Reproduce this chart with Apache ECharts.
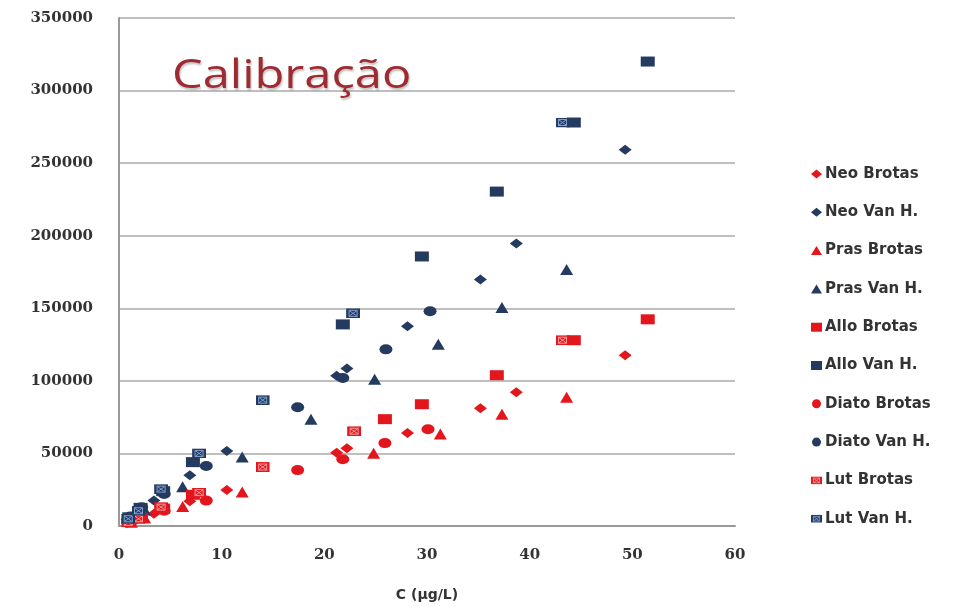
<!DOCTYPE html>
<html>
<head>
<meta charset="utf-8">
<script src="https://cdn.jsdelivr.net/npm/echarts@6/dist/echarts.min.js"></script>
<style>
  html, body { margin: 0; padding: 0; background: #fff; }
  #chart { width: 980px; height: 607px; }
</style>
</head>
<body>
<div id="chart"></div>
<script>
// Calibration points: concentration C (µg/L) against detector area, per pigment and site.
const seriesNames = ['Neo Brotas', 'Neo Van H.', 'Pras Brotas', 'Pras Van H.', 'Allo Brotas',
                     'Allo Van H.', 'Diato Brotas', 'Diato Van H.', 'Lut Brotas', 'Lut Van H.'];

const neoBrotas  = [[0.8, 2000], [1.7, 4500], [3.4, 8500], [6.9, 17000], [10.5, 24800], [21.2, 50500],
                    [22.2, 53500], [28.1, 64000], [35.2, 81200], [38.7, 92200], [49.3, 117600]];
const neoVanH    = [[0.8, 4500], [1.7, 9000], [3.4, 17500], [6.9, 35000], [10.5, 51600], [21.2, 103500],
                    [22.2, 108500], [28.1, 137600], [35.2, 169900], [38.7, 194600], [49.3, 259300]];
const prasBrotas = [[1.2, 2500], [2.5, 5500], [6.2, 13500], [12.0, 23400], [24.8, 50200],
                    [31.3, 63300], [37.3, 77000], [43.6, 88700]];
const prasVanH   = [[1.2, 5500], [2.5, 11000], [6.2, 27000], [12.0, 47500], [18.7, 73600], [24.9, 101100],
                    [31.1, 125200], [37.3, 150600], [43.6, 176800]];
const alloBrotas = [[1.0, 3000], [2.1, 6000], [4.3, 12000], [7.2, 21500], [25.9, 73600], [29.5, 83900],
                    [36.8, 103900], [44.3, 128000], [51.5, 142400]];
const alloVanH   = [[1.0, 6000], [2.1, 12500], [4.3, 24000], [7.2, 44000], [21.8, 138900], [29.5, 185700],
                    [36.8, 230400], [44.3, 278000], [51.5, 320000]];
const diatoBrotas = [[1.1, 3000], [2.2, 6500], [4.4, 10500], [8.5, 17500], [17.4, 38500], [21.8, 46000],
                     [25.9, 57100], [30.1, 66700]];
const diatoVanH   = [[1.1, 6500], [2.2, 13000], [4.4, 22000], [8.5, 41300], [17.4, 81800], [21.8, 102000],
                     [26.0, 121700], [30.3, 147900]];
const lutBrotas  = [[0.9, 2500], [1.9, 5000], [4.1, 13000], [7.8, 23000], [14.0, 40600], [22.9, 65300],
                    [43.2, 128000]];
const lutVanH    = [[0.9, 5000], [1.9, 10500], [4.1, 25400], [7.8, 50000], [14.0, 86700], [22.8, 146500],
                    [43.2, 278000]];

const xTicks = [0, 10, 20, 30, 40, 50, 60];
const yTicks = [0, 50000, 100000, 150000, 200000, 250000, 300000, 350000];

const RED = '#e3161d';
const NAVY = '#243a5f';

// square with a light cross hatch, used for the lutein series
function hatchedSquare(fill, hatch) {
  const svg = "<svg xmlns='http://www.w3.org/2000/svg' width='28' height='20' viewBox='0 0 14 10'>" +
    "<rect x='0' y='0' width='14' height='10' fill='" + fill + "'/>" +
    "<rect x='3' y='2' width='8' height='6' fill='none' stroke='" + hatch + "' stroke-width='1'/>" +
    "<path d='M3.5 2.5 L10.5 7.5 M10.5 2.5 L3.5 7.5' stroke='" + hatch + "' stroke-width='1'/></svg>";
  return 'image://data:image/svg+xml;charset=utf-8,' + encodeURIComponent(svg);
}

const styles = [
  { symbol: 'diamond',  size: [13, 10], color: RED },
  { symbol: 'diamond',  size: [13, 10], color: NAVY },
  { symbol: 'triangle', size: [13, 11], color: RED },
  { symbol: 'triangle', size: [13, 11], color: NAVY },
  { symbol: 'rect',     size: [14, 10], color: RED },
  { symbol: 'rect',     size: [14, 10], color: NAVY },
  { symbol: 'circle',   size: [13, 10], color: RED },
  { symbol: 'circle',   size: [13, 10], color: NAVY },
  { symbol: hatchedSquare(RED, '#f59a9a'),  size: [14, 10], color: RED },
  { symbol: hatchedSquare(NAVY, '#7f9fd0'), size: [14, 10], color: NAVY }
];
const allData = [neoBrotas, neoVanH, prasBrotas, prasVanH, alloBrotas,
                 alloVanH, diatoBrotas, diatoVanH, lutBrotas, lutVanH];

const chart = echarts.init(document.getElementById('chart'), null, { renderer: 'canvas' });

const axisFont = { fontFamily: 'DejaVu Serif', fontWeight: 'bold', fontSize: 15, color: '#333' };

chart.setOption({
  animation: false,
  backgroundColor: '#fff',
  graphic: [{
    type: 'text',
    left: 172, top: 57,
    scaleX: 1.22,
    style: {
      text: 'Calibração',
      font: 'normal 40px "Open Sans"',
      fill: '#9e2b31',
      textShadowColor: 'rgba(0,0,0,0.25)', textShadowBlur: 2, textShadowOffsetX: 1, textShadowOffsetY: 2
    },
    z: 10
  }],
  grid: { left: 119, right: 245, top: 18, bottom: 80 },
  legend: {
    orient: 'vertical',
    left: 806, top: 161,
    itemWidth: 11, itemHeight: 9,
    itemGap: 22.3,
    textStyle: { fontFamily: 'DejaVu Sans', fontWeight: 'bold', fontSize: 15, color: '#333', lineHeight: 16, padding: [0, 0, 0, -2] },
    data: seriesNames
  },
  xAxis: {
    type: 'value',
    min: xTicks[0], max: xTicks[xTicks.length - 1], interval: 10,
    name: 'C (μg/L)',
    nameLocation: 'middle', nameGap: 62,
    nameTextStyle: { fontFamily: 'DejaVu Sans', fontWeight: 'bold', fontSize: 14, color: '#333' },
    axisLine: { lineStyle: { color: '#999', width: 2 } },
    axisTick: { show: false },
    splitLine: { show: false },
    axisLabel: Object.assign({ margin: 22 }, axisFont)
  },
  yAxis: {
    type: 'value',
    min: yTicks[0], max: yTicks[yTicks.length - 1], interval: 50000,
    axisLine: { show: true, lineStyle: { color: '#999', width: 2 } },
    axisTick: { show: false },
    splitLine: { lineStyle: { color: '#aaa', width: 1.5 } },
    axisLabel: Object.assign({ margin: 26, formatter: v => String(v) }, axisFont)
  },
  series: seriesNames.map((name, i) => ({
    name: name,
    type: 'scatter',
    data: allData[i],
    symbol: styles[i].symbol,
    symbolSize: styles[i].size,
    itemStyle: { color: styles[i].color, opacity: 1 },
    emphasis: { disabled: true }
  }))
});
</script>
</body>
</html>
